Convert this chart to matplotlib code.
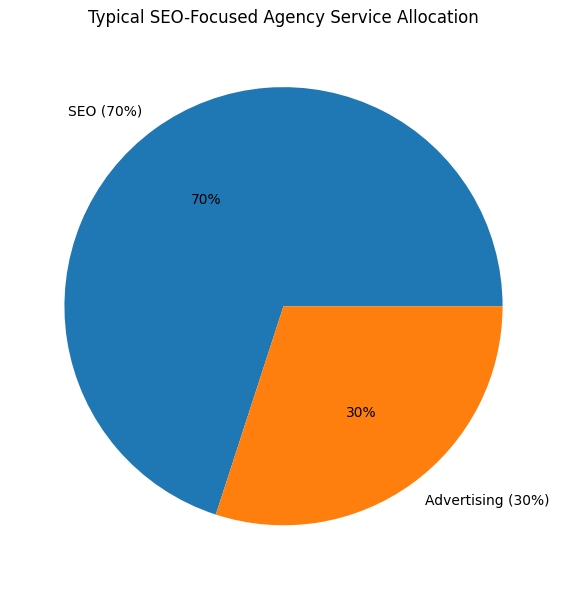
import matplotlib
matplotlib.use("Agg")
import matplotlib.pyplot as plt

# service split
services = ["SEO", "Advertising"]
shares = [70, 30]
labels = [f"{s} ({v}%)" for s, v in zip(services, shares)]

fig, ax = plt.subplots(figsize=(5.67, 5.9), dpi=100)
ax.pie(shares, labels=labels, autopct="%1.0f%%")
ax.axis("equal")

plt.subplots_adjust(left=0.075, right=0.925, top=0.931, bottom=0.031)
# title placed in figure coords so it sits where the reference has it
fig.text(0.5, 0.9695, "Typical SEO-Focused Agency Service Allocation",
         ha="center", va="center", fontsize=12)
fig.savefig("out.png", dpi=100)
